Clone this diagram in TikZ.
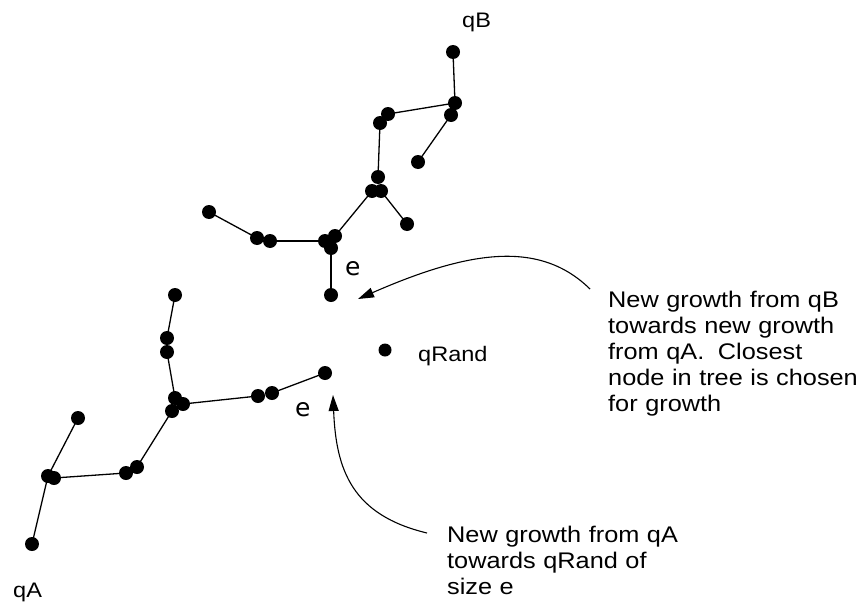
\documentclass[tikz,border=0pt]{standalone}
\usepackage{fontspec}
\usetikzlibrary{arrows.meta}
\newfontfamily\labfont{Liberation Sans}[FakeStretch=1.12]
\newfontfamily\efont{DejaVu Sans}
\begin{document}
\begin{tikzpicture}[x=1pt,y=-1pt,
  dot/.style={circle,fill=black,draw=none,minimum size=14pt,inner sep=0pt},
  edge/.style={line width=1.3pt,black},
  callout/.style={line width=1.1pt,black,-{Triangle[length=16pt,width=10pt]}},
  lab/.style={font={\labfont\fontsize{21}{24}\selectfont},inner sep=0pt,anchor=base west},
  elab/.style={font={\efont\fontsize{25}{28}\selectfont},inner sep=0pt,anchor=base west},
  block/.style={font={\labfont\fontsize{22.6}{26}\selectfont},inner sep=0pt,anchor=base west,text width=252pt,align=left}]
\useasboundingbox (0,0) rectangle (861,602);
% tree B
\node[dot] (b1) at (453,52) {};
\node[dot] (b2) at (455,103) {};
\node[dot] (b3) at (451,115) {};
\node[dot] (b4) at (388,114) {};
\node[dot] (b5) at (380,123) {};
\node[dot] (b6) at (418,162) {};
\node[dot] (b7) at (378,177) {};
\node[dot] (b8) at (372,191) {};
\node[dot] (b9) at (381,191) {};
\node[dot] (b10) at (407,224) {};
\node[dot] (b11) at (209,212) {};
\node[dot] (b12) at (257,238) {};
\node[dot] (b13) at (270,241) {};
\node[dot] (b14) at (325,241) {};
\node[dot] (b15) at (335,236) {};
\node[dot] (b16) at (331,248) {};
\node[dot] (b17) at (331,295) {};
\draw[edge] (b1.center) -- (b2.center);
\draw[edge] (b2.center) -- (b4.center);
\draw[edge] (b3.center) -- (b6.center);
\draw[edge] (b5.center) -- (b7.center);
\draw[edge] (b9.center) -- (b10.center);
\draw[edge] (b8.center) -- (b15.center);
\draw[edge] (b14.center) -- (b13.center);
\draw[edge] (b12.center) -- (b11.center);
\draw[edge] (b16.center) -- (b17.center);
% tree A
\node[dot] (a1) at (175,295) {};
\node[dot] (a2) at (167,338) {};
\node[dot] (a3) at (167,352) {};
\node[dot] (a4) at (175,398) {};
\node[dot] (a5) at (183,404) {};
\node[dot] (a6) at (172,411) {};
\node[dot] (a7) at (258,396) {};
\node[dot] (a8) at (272,393) {};
\node[dot] (a9) at (325,373) {};
\node[dot] (a10) at (137,467) {};
\node[dot] (a11) at (126,473) {};
\node[dot] (a12) at (48,476) {};
\node[dot] (a13) at (54,478) {};
\node[dot] (a14) at (78,418) {};
\node[dot] (a15) at (32,544) {};
\draw[edge] (a1.center) -- (a2.center);
\draw[edge] (a3.center) -- (a4.center);
\draw[edge] (a5.center) -- (a7.center);
\draw[edge] (a8.center) -- (a9.center);
\draw[edge] (a6.center) -- (a10.center);
\draw[edge] (a11.center) -- (a13.center);
\draw[edge] (a12.center) -- (a14.center);
\draw[edge] (a12.center) -- (a15.center);
% qRand
\node[dot,minimum size=13pt] (qr) at (385,350) {};
% labels
\node[lab] (lqB) at (462,28) {qB};
\node[lab] (lqA) at (13,597) {qA};
\node[lab] (lqR) at (418,361) {qRand};
\node[elab] (e1) at (345,275) {e};
\node[elab] (e2) at (295,416) {e};
% callouts
\node[block] (t1) at (608,307) {New growth from qB\\towards new growth\\from qA.\hspace{0.6em}Closest\\node in tree is chosen\\for growth};
\node[block] (t2) at (447,542) {New growth from qA\\towards qRand of\\size e};
\coordinate (s1) at (590,289);
\coordinate (tip1) at (358,299);
\coordinate (s2) at (427,533);
\coordinate (tip2) at (333,395);
\draw[callout] (s1) .. controls (540,240) and (470,250) .. (tip1);
\draw[callout] (s2) .. controls (352,515) and (336,470) .. (tip2);
\end{tikzpicture}
\end{document}
